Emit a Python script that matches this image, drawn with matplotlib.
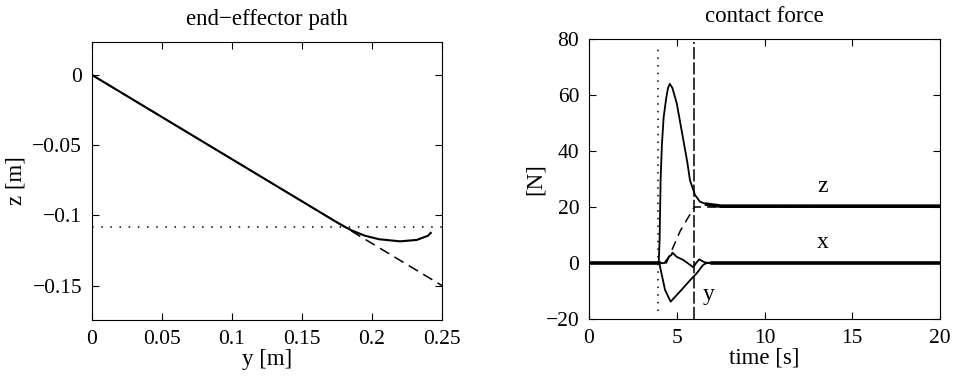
import matplotlib
matplotlib.use('Agg')
import matplotlib.pyplot as plt
from matplotlib.ticker import FuncFormatter


""" data read off the reference picture """

# end-effector path (left)
path_y = [0, 0.175, 0.185, 0.195, 0.205, 0.22, 0.232, 0.240, 0.242]
path_z = [0, -0.105, -0.1105, -0.1145, -0.117, -0.1185, -0.1175, -0.1145, -0.1125]
ref_path_y = [0, 0.25]
ref_path_z = [0, -0.15]
surface_z = -0.1086

# contact force (right)
t_z = [0, 3.97, 4.02, 4.08, 4.15, 4.25, 4.4, 4.5, 4.6, 4.75, 5.0, 5.2, 5.4, 5.6, 5.75,
       6.04, 6.32, 6.7, 7.5, 20]
f_z = [0, 0, 8, 30, 42, 52, 59, 62.5, 64, 62.5, 57, 50, 43, 36, 29.6,
       24.3, 21.9, 21, 20.3, 20.3]
t_zref = [0, 4.4, 5.2, 6.0, 20]
f_zref = [0, 0, 11.5, 20, 20]
t_x = [0, 4.3, 4.55, 4.7, 4.75, 5.0, 5.37, 5.94, 6.1, 6.28, 6.6, 7.0, 20]
f_x = [0, 0, 2.2, 2.9, 3.7, 2.2, 1.1, -1.5, 0, 1.3, 0.2, 0, 0]
t_y = [0, 4.0, 4.33, 4.65, 5.18, 5.75, 6.13, 6.5, 6.7, 20]
f_y = [0, 0, -9.6, -13.8, -10.2, -6.2, -3.7, -0.7, 0, 0]
t_contact = 3.95
t_ramp_end = 6.0

labels = ['z', 'x', 'y']
label_t = [13.3, 13.3, 6.8]
label_f = [27.3, 7.2, -11.4]


plt.rcParams['font.family'] = ['Liberation Serif', 'DejaVu Serif']
plt.rcParams['font.size'] = 15.5
plt.rcParams['axes.linewidth'] = 0.8


def fmt(v, pos):
    s = '%g' % round(v, 4)
    return s.replace('-', '\u2212')


def matlab_axes(ax):
    ax.tick_params(direction='in', top=True, right=True, length=5, width=0.8,
                   labelsize=15.5)
    ax.tick_params(axis='y', pad=7)
    ax.tick_params(axis='x', pad=7)
    ax.xaxis.set_major_formatter(FuncFormatter(fmt))
    ax.yaxis.set_major_formatter(FuncFormatter(fmt))


fig = plt.figure(figsize=(9.55, 3.8), dpi=100)

""" left: end-effector path """
ax1 = fig.add_axes([0.0963, 0.158, 0.3665, 0.7316])
ax1.plot(ref_path_y, ref_path_z, color='black', lw=1.1, linestyle=(0, (7, 4)))
ax1.plot(path_y, path_z, color='black', lw=1.5)
ax1.axhline(surface_z, color='black', lw=1.1, linestyle=(0, (1, 5)))
ax1.set_xlim(0, 0.25)
ax1.set_ylim(-0.1745, 0.0235)
ax1.set_xticks([0, 0.05, 0.1, 0.15, 0.2, 0.25])
ax1.set_yticks([0, -0.05, -0.1, -0.15])
matlab_axes(ax1)
ax1.set_title('end\u2212effector path', fontsize=16.5, pad=12)
ax1.set_xlabel('y [m]', fontsize=16.5, labelpad=0)
ax1.set_ylabel('z [m]', fontsize=16.5, labelpad=4)

""" right: contact force """
ax2 = fig.add_axes([0.6168, 0.1605, 0.3675, 0.7368])
ax2.plot(t_z, f_z, color='black', lw=1.3)
ax2.plot(t_x, f_x, color='black', lw=1.3)
ax2.plot(t_y, f_y, color='black', lw=1.3)
ax2.plot(t_zref, f_zref, color='black', lw=1.1, linestyle=(0, (6, 4)))
# noisy flat parts drawn thicker
for tt, ff in [(t_z, f_z), (t_x, f_x)]:
    before = [(a, b) for a, b in zip(tt, ff) if a <= 4.0]
    after = [(a, b) for a, b in zip(tt, ff) if a >= 6.7]
    for seg in (before, after):
        ax2.plot([p[0] for p in seg], [p[1] for p in seg], color='black', lw=2.6)
ax2.plot([t_contact, t_contact], [-17, 78], color='black', lw=1.1, linestyle=(0, (1, 4)))
ax2.plot([t_ramp_end, t_ramp_end], [-20, 79], color='black', lw=1.1, linestyle=(0, (8, 2)))
for lab, lt, lf in zip(labels, label_t, label_f):
    ax2.text(lt, lf, lab, fontsize=17, ha='center', va='center')
ax2.set_xlim(0, 20)
ax2.set_ylim(-20, 80)
ax2.set_xticks([0, 5, 10, 15, 20])
ax2.set_yticks([-20, 0, 20, 40, 60, 80])
matlab_axes(ax2)
ax2.set_title('contact force', fontsize=16.5, pad=12)
ax2.set_xlabel('time [s]', fontsize=16.5, labelpad=0)
ax2.set_ylabel('[N]', fontsize=16.5, labelpad=0)

fig.savefig('out.png', dpi=100)
